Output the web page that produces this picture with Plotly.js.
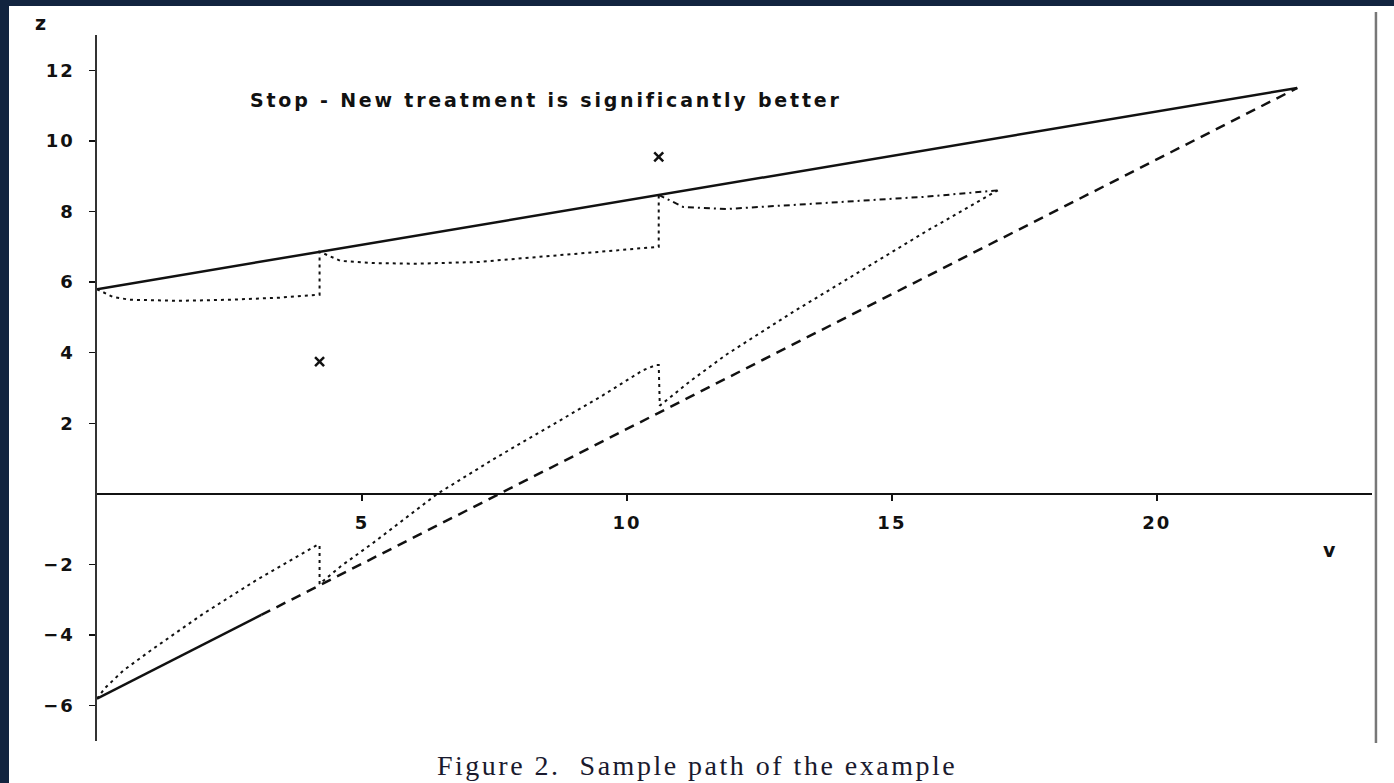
<!DOCTYPE html>
<html>
<head>
<meta charset="utf-8">
<script src="https://cdn.plot.ly/plotly-3.0.1.min.js"></script>
<style>
  html, body { margin: 0; padding: 0; background: #12243f; width: 1394px; height: 783px; overflow: hidden; }
  #chart { position: absolute; left: 9px; top: 6px; width: 1385px; height: 777px; background: #fff; }
</style>
</head>
<body>
<div id="chart"></div>
<script>
// ---- Data ----
// Boundaries of the triangular test
const upperBoundV = [0, 22.65];
const upperBoundZ = [5.8, 11.5];
const lowerSolidV = [0, 3.1];
const lowerSolidZ = [-5.8, -3.43];
const lowerDashV = [3.1, 22.65];
const lowerDashZ = [-3.43, 11.5];

// Upper edge of the sample-path region (dotted)
const upperPathV = [0, 0.3, 0.62, 1.57, 2.5, 3.45, 4.15, 4.2, 4.2, 4.6, 5.2, 6.0, 7.2, 8.74, 9.68, 10.55, 10.6, 10.6];
const upperPathZ = [5.8, 5.58, 5.5, 5.47, 5.5, 5.56, 5.64, 5.64, 6.86, 6.6, 6.54, 6.52, 6.57, 6.77, 6.88, 7.0, 7.0, 8.47];
const upperTailV = [10.6, 11.06, 11.88, 13.13, 14.4, 15.66, 17.0];
const upperTailZ = [8.47, 8.13, 8.07, 8.19, 8.3, 8.42, 8.6];

// Lower edge of the sample-path region (dotted)
const lowerPathV = [0, 0.15, 0.5, 1.0, 2.0, 3.0, 4.15, 4.2, 4.2, 4.6, 5.2, 6.42, 7.5, 8.74, 9.5, 10.3, 10.55, 10.6, 10.62, 11.2, 11.88, 13.13, 14.4, 15.66, 17.0];
const lowerPathZ = [-5.8, -5.5, -5.0, -4.45, -3.4, -2.45, -1.45, -1.45, -2.55, -2.05, -1.4, 0, 1.0, 2.1, 2.75, 3.5, 3.65, 3.65, 2.5, 3.2, 3.95, 5.15, 6.3, 7.45, 8.6];

// Observed points (x)
const markV = [4.2, 10.6];
const markZ = [3.75, 9.55];

// Tick values / labels
const xTicks = [5, 10, 15, 20];
const yTicks = [-6, -4, -2, 2, 4, 6, 8, 10, 12];
const xTickText = ['5', '10', '15', '20'];
const yTickText = ['\u22126', '\u22124', '\u22122', '2', '4', '6', '8', '10', '12'];

const stopText = 'Stop - New treatment is significantly better';
const captionText = 'Figure 2.  Sample path of the example';

const black = '#111';
const traces = [
  {x: upperBoundV, y: upperBoundZ, mode: 'lines', line: {color: black, width: 2.5}},
  {x: lowerSolidV, y: lowerSolidZ, mode: 'lines', line: {color: black, width: 2.5}},
  {x: lowerDashV, y: lowerDashZ, mode: 'lines', line: {color: black, width: 2.5, dash: '10px,7px'}},
  {x: upperPathV, y: upperPathZ, mode: 'lines', line: {color: black, width: 2, dash: '3px,4px'}},
  {x: upperTailV, y: upperTailZ, mode: 'lines', line: {color: black, width: 2, dash: '6px,4px,2px,4px'}},
  {x: lowerPathV, y: lowerPathZ, mode: 'lines', line: {color: black, width: 2, dash: '3px,4px'}},
  {x: markV, y: markZ, mode: 'markers', marker: {symbol: 'x-thin', size: 9, line: {color: black, width: 2.5}}}
];

const tickFont = {family: 'DejaVu Sans, Verdana, sans-serif', size: 18, color: black, weight: 'bold'};
const spaced = (s, px) => '<span style="letter-spacing:' + px + 'px">' + s + '</span>';

const layout = {
  width: 1385, height: 777,
  margin: {l: 88, r: 22, t: 29, b: 42, pad: 0},
  paper_bgcolor: '#fff', plot_bgcolor: '#fff',
  showlegend: false,
  xaxis: {
    range: [0, 24.06], showgrid: false, zeroline: false,
    showline: true, linecolor: black, linewidth: 2,
    anchor: 'free', position: 0.35,
    tickmode: 'array', tickvals: xTicks, ticktext: xTickText.map(s => spaced(s, 2)),
    ticks: 'outside', ticklen: 6, tickwidth: 1.5, tickcolor: black,
    ticklabelstandoff: 6,
    tickfont: tickFont
  },
  yaxis: {
    range: [-7, 13], showgrid: false, zeroline: false,
    showline: true, linecolor: '#333', linewidth: 2.5,
    tickmode: 'array', tickvals: yTicks, ticktext: yTickText.map(s => spaced(s, 2)),
    ticks: 'outside', ticklen: 6, tickwidth: 1.5, tickcolor: black,
    ticklabelstandoff: 10,
    tickfont: tickFont
  },
  shapes: [
    {type: 'line', xref: 'paper', yref: 'paper', x0: 1.0031, x1: 1.0031, y0: -0.003, y1: 1.0326,
     line: {color: '#777', width: 2.5}}
  ],
  annotations: [
    {x: 2.85, y: 11.15, xref: 'x', yref: 'y', xanchor: 'left', yanchor: 'middle', showarrow: false,
     text: spaced(stopText, 2.8),
     font: {family: 'DejaVu Sans, Verdana, sans-serif', size: 19, color: black, weight: 'bold'}},
    {x: -0.0447, y: 1.017, xref: 'paper', yref: 'paper', xanchor: 'center', yanchor: 'middle', showarrow: false,
     text: 'z', font: {family: 'DejaVu Sans, Verdana, sans-serif', size: 19, color: black, weight: 'bold'}},
    {x: 23.25, y: -1.6, xref: 'x', yref: 'y', xanchor: 'center', yanchor: 'middle', showarrow: false,
     text: 'v', font: {family: 'DejaVu Sans, Verdana, sans-serif', size: 19, color: black, weight: 'bold'}},
    {x: 0.4706, y: -0.034, xref: 'paper', yref: 'paper', xanchor: 'center', yanchor: 'middle', showarrow: false,
     text: spaced(captionText, 2.5),
     font: {family: 'Liberation Serif, Times New Roman, serif', size: 28, color: '#1a1a2e'}}
  ]
};

Plotly.newPlot('chart', traces, layout, {displayModeBar: false, staticPlot: true});
</script>
</body>
</html>
